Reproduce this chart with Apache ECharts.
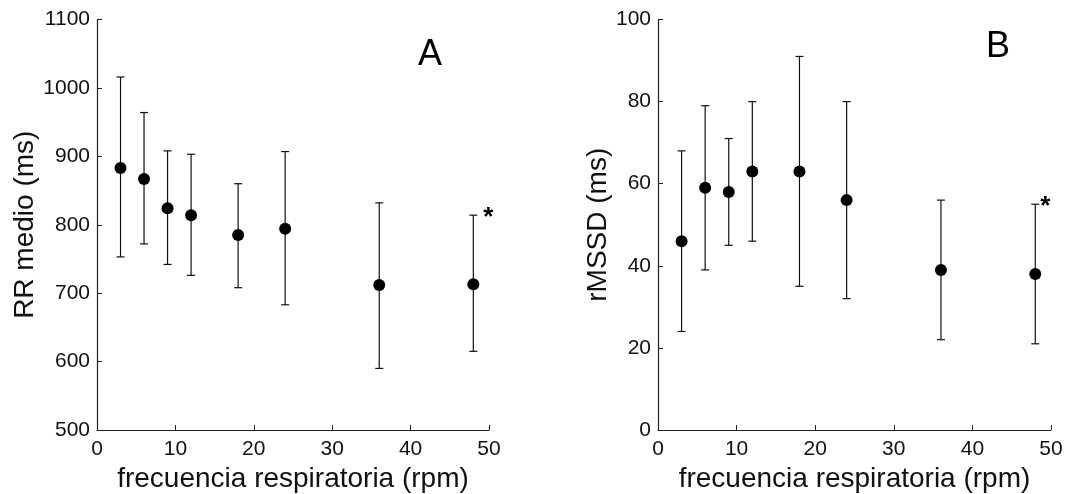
<!DOCTYPE html>
<html>
<head>
<meta charset="utf-8">
<script src="https://cdn.jsdelivr.net/npm/echarts@6/dist/echarts.min.js"></script>
<style>
html,body{margin:0;padding:0;background:#fff;}
#chart{width:1089px;height:494px;}
</style>
</head>
<body>
<div id="chart"></div>
<script>
// ---- data ----
var freq = [3, 6, 9, 12, 18, 24, 36, 48];
var rrMean = [883, 867, 824, 814, 785, 794, 712, 713];
var rrHigh = [1016, 964, 908, 903, 860, 907, 832, 814];
var rrLow  = [753, 772, 742, 726, 708, 683, 590, 615];
var rmssdMean = [46, 59, 58, 63, 63, 56, 39, 38];
var rmssdHigh = [68, 79, 71, 80, 91, 80, 56, 55];
var rmssdLow  = [24, 39, 45, 46, 35, 32, 22, 21];
var significant = [false, false, false, false, false, false, false, true];
var xTicks = [0, 10, 20, 30, 40, 50];
var rrTicks = [500, 600, 700, 800, 900, 1000, 1100];
var rmssdTicks = [0, 20, 40, 60, 80, 100];

var FONT = 'Liberation Sans, Arial, sans-serif';

function pairs(xs, ys) { return xs.map(function (x, i) { return [x, ys[i]]; }); }
function errData(xs, lo, hi) { return xs.map(function (x, i) { return [x, lo[i], hi[i], significant[i] ? 1 : 0]; }); }

function errorRender(starDx, starDy) {
  return function (params, api) {
    var x = api.value(0);
    var lo = api.coord([x, api.value(1)]);
    var hi = api.coord([x, api.value(2)]);
    var cap = 4;
    var st = { stroke: '#111', lineWidth: 1.2 };
    var children = [
      { type: 'line', shape: { x1: lo[0], y1: lo[1], x2: hi[0], y2: hi[1] }, style: st },
      { type: 'line', shape: { x1: lo[0] - cap, y1: lo[1], x2: lo[0] + cap, y2: lo[1] }, style: st },
      { type: 'line', shape: { x1: hi[0] - cap, y1: hi[1], x2: hi[0] + cap, y2: hi[1] }, style: st }
    ];
    if (api.value(3) === 1) {
      children.push({
        type: 'text',
        style: { text: '*', x: hi[0] + starDx, y: hi[1] + starDy, fill: '#000',
                 font: 'bold 26px ' + FONT, textAlign: 'center', textVerticalAlign: 'middle' }
      });
    }
    return { type: 'group', children: children };
  };
}

function xAxis(gi) {
  return {
    gridIndex: gi, type: 'value', min: 0, max: 50, interval: 10,
    name: 'frecuencia respiratoria (rpm)', nameLocation: 'middle', nameGap: 32,
    nameTextStyle: { fontFamily: FONT, fontSize: 28, color: '#111' },
    axisLine: { show: true, lineStyle: { color: '#222', width: 1.2 } },
    axisTick: { show: true, inside: true, length: 5, lineStyle: { color: '#222' } },
    axisLabel: { fontFamily: FONT, fontSize: 21, color: '#111', margin: 9 },
    splitLine: { show: false }
  };
}
function yAxis(gi, min, max, interval, name, gap) {
  return {
    gridIndex: gi, type: 'value', min: min, max: max, interval: interval,
    name: name, nameLocation: 'middle', nameGap: gap, nameRotate: 90,
    nameTextStyle: { fontFamily: FONT, fontSize: 28, color: '#111' },
    axisLine: { show: true, lineStyle: { color: '#222', width: 1.2 } },
    axisTick: { show: true, inside: true, length: 5, lineStyle: { color: '#222' } },
    axisLabel: { fontFamily: FONT, fontSize: 21, color: '#111', margin: 7,
                 formatter: function (v) { return String(v); } },
    splitLine: { show: false }
  };
}

var chart = echarts.init(document.getElementById('chart'), null, { renderer: 'canvas' });
chart.setOption({
  backgroundColor: '#fff',
  animation: false,
  grid: [
    { left: 97, right: 600, top: 19.5, bottom: 64, containLabel: false, outerBoundsMode: 'none' },
    { left: 658, right: 38, top: 19.5, bottom: 64, containLabel: false, outerBoundsMode: 'none' }
  ],
  xAxis: [xAxis(0), xAxis(1)],
  yAxis: [
    yAxis(0, 500, 1100, 100, 'RR medio (ms)', 58),
    yAxis(1, 0, 100, 20, 'rMSSD (ms)', 42)
  ],
  graphic: [
    { type: 'text', left: 418, top: 37, style: { text: 'A', font: '36px ' + FONT, fill: '#000' } },
    { type: 'text', left: 986, top: 29, style: { text: 'B', font: '36px ' + FONT, fill: '#000' } }
  ],
  series: [
    { type: 'custom', xAxisIndex: 0, yAxisIndex: 0, renderItem: errorRender(15, 3), data: errData(freq, rrLow, rrHigh), z: 2 },
    { type: 'scatter', xAxisIndex: 0, yAxisIndex: 0, data: pairs(freq, rrMean), symbol: 'circle', symbolSize: 12,
      itemStyle: { color: '#000', opacity: 1 }, z: 3 },
    { type: 'custom', xAxisIndex: 1, yAxisIndex: 1, renderItem: errorRender(10, 3), data: errData(freq, rmssdLow, rmssdHigh), z: 2 },
    { type: 'scatter', xAxisIndex: 1, yAxisIndex: 1, data: pairs(freq, rmssdMean), symbol: 'circle', symbolSize: 12,
      itemStyle: { color: '#000', opacity: 1 }, z: 3 }
  ]
});
</script>
</body>
</html>
